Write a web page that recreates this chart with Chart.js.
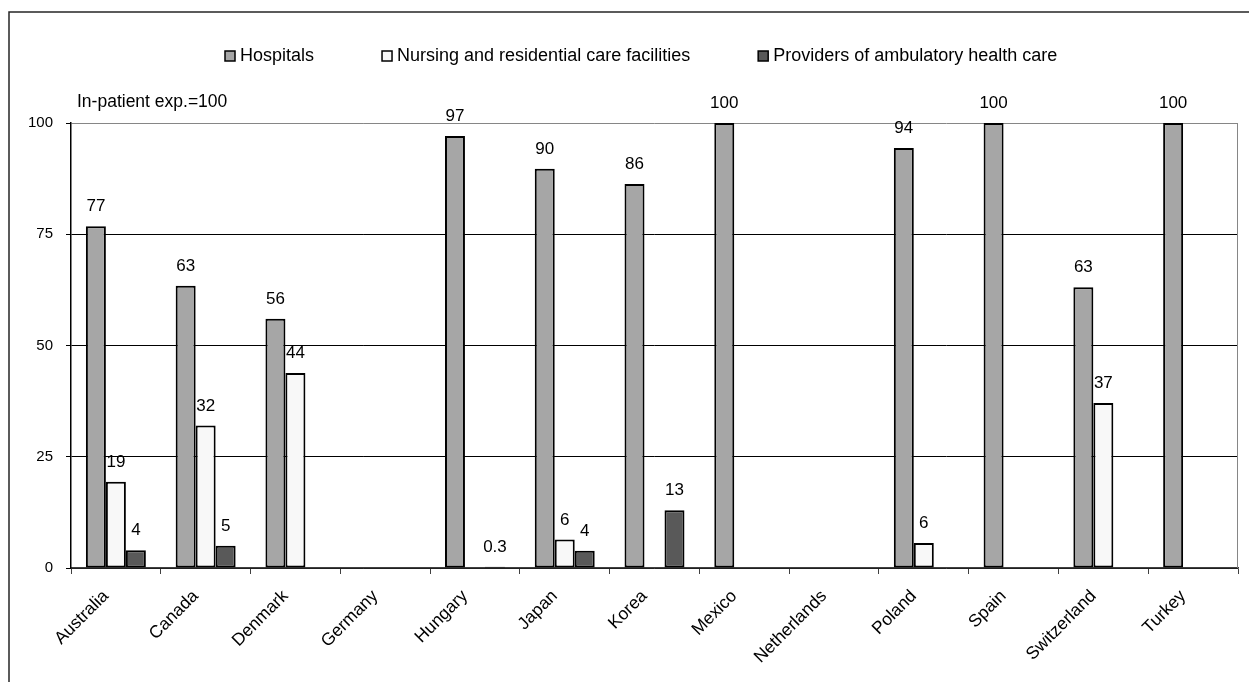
<!DOCTYPE html>
<html>
<head>
<meta charset="utf-8">
<script src="https://cdn.jsdelivr.net/npm/chart.js@4.4.1/dist/chart.umd.min.js"></script>
<style>
  html, body { margin: 0; padding: 0; background: #ffffff; }
  #wrap { width: 1249px; height: 682px; }
</style>
</head>
<body>
<div id="wrap"><canvas id="c" width="1249" height="682"></canvas></div>
<script>
// ---- data ----
const categories = ['Australia', 'Canada', 'Denmark', 'Germany', 'Hungary', 'Japan', 'Korea', 'Mexico', 'Netherlands', 'Poland', 'Spain', 'Switzerland', 'Turkey'];
const seriesNames = ['Hospitals', 'Nursing and residential care facilities', 'Providers of ambulatory health care'];
const hospitals = [76.8, 63.4, 56.0, null, 97.1, 89.7, 86.3, 100, null, 94.4, 100, 63.1, 100];
const nursing   = [19.4, 32.0, 43.8, null, null, 6.4, null, null, null, 5.6, null, 37.1, null];
const providers = [4.0, 5.0, null, null, 0.3, 3.9, 13.0, null, null, null, null, null, null];
const yTicks = [0, 25, 50, 75, 100];
const yNote = 'In-patient exp.=100';

const FONT = '"Liberation Sans", Arial, Helvetica, sans-serif';
const fills = ['#a6a6a6', '#f8f8f8', '#595959'];

function fmt(v) { return v < 1 ? v.toFixed(1) : String(Math.round(v)); }

const decorPlugin = {
  id: 'decor',
  beforeDraw(chart) {
    const ctx = chart.ctx;
    ctx.save();
    ctx.fillStyle = '#ffffff';
    ctx.fillRect(0, 0, chart.width, chart.height);
    // outer frame (left and top edges visible)
    ctx.strokeStyle = '#262626';
    ctx.lineWidth = 1.5;
    ctx.beginPath();
    ctx.moveTo(9, chart.height + 2);
    ctx.lineTo(9, 12);
    ctx.lineTo(chart.width + 2, 12);
    ctx.stroke();
    ctx.restore();
  },
  beforeDatasetsDraw(chart) {
    const ctx = chart.ctx, a = chart.chartArea;
    ctx.save();
    ctx.strokeStyle = '#868686';
    ctx.lineWidth = 1;
    ctx.beginPath();
    ctx.moveTo(Math.round(a.right) - 0.5, a.top);
    ctx.lineTo(Math.round(a.right) - 0.5, a.bottom);
    ctx.stroke();
    ctx.restore();
  },
  afterDatasetsDraw(chart) {
    const ctx = chart.ctx;
    ctx.save();
    ctx.font = '17px ' + FONT;
    ctx.fillStyle = '#000000';
    ctx.textAlign = 'center';
    ctx.textBaseline = 'alphabetic';
    chart.data.datasets.forEach((ds, i) => {
      const meta = chart.getDatasetMeta(i);
      meta.data.forEach((el, j) => {
        const v = ds.data[j];
        if (v === null || v === undefined) return;
        ctx.fillText(fmt(v), el.x, el.y - 15);
      });
    });
    // note above the value axis
    ctx.textAlign = 'left';
    ctx.font = '17.5px ' + FONT;
    ctx.fillText(yNote, 77, 107);
    // legend
    ctx.font = '18px ' + FONT;
    let x = 225;
    const yMid = 56;
    chart.data.datasets.forEach((ds) => {
      ctx.fillStyle = ds.backgroundColor;
      ctx.fillRect(x, yMid - 5, 10, 10);
      ctx.strokeStyle = '#000000';
      ctx.lineWidth = 1.5;
      ctx.strokeRect(x, yMid - 5, 10, 10);
      ctx.fillStyle = '#000000';
      ctx.textBaseline = 'middle';
      ctx.fillText(ds.label, x + 15, yMid);
      x += 15 + ctx.measureText(ds.label).width + 68;
    });
    ctx.restore();
  }
};

new Chart(document.getElementById('c'), {
  type: 'bar',
  data: {
    labels: categories,
    datasets: [
      { label: seriesNames[0], data: hospitals, backgroundColor: fills[0] },
      { label: seriesNames[1], data: nursing, backgroundColor: fills[1] },
      { label: seriesNames[2], data: providers, backgroundColor: fills[2] }
    ]
  },
  options: {
    responsive: false,
    devicePixelRatio: 1,
    animation: false,
    layout: { padding: { left: 9, right: 11, top: 123, bottom: 0 } },
    datasets: {
      bar: {
        borderColor: '#000000',
        borderWidth: 2,
        borderSkipped: false,
        categoryPercentage: 0.668,
        barPercentage: 1.0
      }
    },
    plugins: {
      legend: { display: false },
      tooltip: { enabled: false }
    },
    scales: {
      x: {
        offset: true,
        afterFit(s) { s.height = 114; },
        grid: {
          display: true,
          drawOnChartArea: false,
          drawTicks: true,
          tickLength: 6,
          tickColor: '#404040',
          offset: true
        },
        border: { display: true, color: '#404040', width: 1.5 },
        ticks: {
          color: '#000000',
          font: { family: FONT, size: 17.5 },
          minRotation: 45,
          maxRotation: 45,
          autoSkip: false,
          padding: 12,
          labelOffset: -10
        }
      },
      y: {
        min: 0,
        max: 100,
        afterFit(s) { s.width = 62; },
        afterBuildTicks(s) { s.ticks = yTicks.map(v => ({ value: v })); },
        grid: {
          color: (c) => (c.tick && c.tick.value === 100) ? '#868686' : '#000000',
          lineWidth: 1,
          drawTicks: true,
          tickLength: 5,
          tickColor: '#000000'
        },
        border: { display: true, color: '#000000', width: 1.5 },
        ticks: {
          color: '#000000',
          font: { family: FONT, size: 15 },
          padding: 13
        }
      }
    }
  },
  plugins: [decorPlugin]
});
</script>
</body>
</html>
